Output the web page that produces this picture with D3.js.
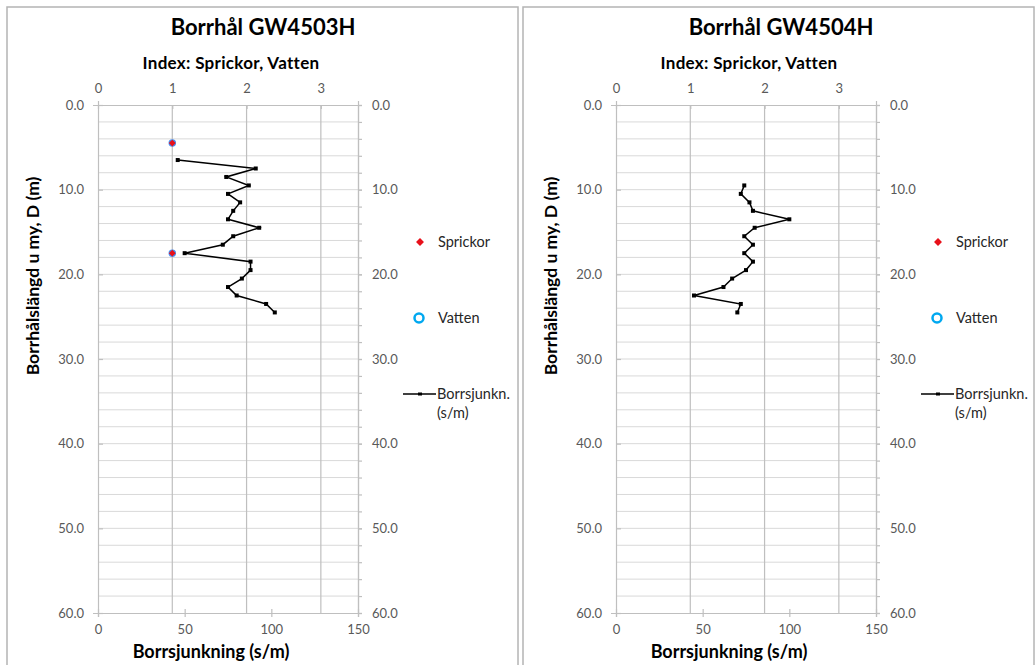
<!DOCTYPE html>
<html>
<head>
<meta charset="utf-8">
<script src="https://cdn.jsdelivr.net/npm/d3@7"></script>
<style>
  body { margin: 0; background: #fff; }
  text { font-family: Lato, "Open Sans", sans-serif; }
</style>
</head>
<body>
<div id="chart"></div>
<script>
// Borrhål data, depth (m) and borrsjunkning (s/m)
const titles = ["Borrhål GW4503H", "Borrhål GW4504H"];

const depthLeft = [6.5, 7.5, 8.5, 9.5, 10.5, 11.5, 12.5, 13.5, 14.5, 15.5, 16.5, 17.5, 18.5, 19.5, 20.5, 21.5, 22.5, 23.5, 24.5];
const sjunkLeft = [46, 91, 74, 87, 75, 82, 78, 75, 93, 78, 72, 50, 88, 88, 83, 75, 80, 97, 102];
const sprickorLeft = [4.5, 17.5];   // depth, index = 1
const vattenLeft = [4.5, 17.5];

const depthRight = [9.5, 10.5, 11.5, 12.5, 13.5, 14.5, 15.5, 16.5, 17.5, 18.5, 19.5, 20.5, 21.5, 22.5, 23.5, 24.5];
const sjunkRight = [74, 72, 77, 79, 100, 80, 74, 79, 74, 79, 75, 67, 62, 45, 72, 70];
const sprickorRight = [];
const vattenRight = [];

const indexTicks = [0, 1, 2, 3];
const sjunkTicks = [0, 50, 100, 150];
const depthTicks = [0, 10, 20, 30, 40, 50, 60];

const W = 1036, H = 665;
const svg = d3.select("#chart").append("svg")
  .attr("width", W).attr("height", H);

const gridCol = "#d9d9d9", axisCol = "#bfbfbf", tickText = "#595959";

function panel(dx, frameX, title, depth, sjunk, sprickor, vatten) {
  const g = svg.append("g").attr("transform", `translate(${dx},0)`);
  const left = 98, right = 358, top = 105, bottom = 613;

  // frame
  g.append("rect").attr("x", frameX).attr("y", 7).attr("width", 511).attr("height", 700)
    .attr("fill", "none").attr("stroke", "#b4b4b4").attr("stroke-width", 1.5);

  const y = d3.scaleLinear().domain([0, 60]).range([top, bottom]);
  const xIdx = d3.scaleLinear().domain([0, 3.5]).range([left, right]);
  const xS = d3.scaleLinear().domain([0, 150]).range([left, right]);

  // horizontal grid every 2 m
  g.append("g").selectAll("line").data(d3.range(2, 60, 2)).join("line")
    .attr("x1", left).attr("x2", right)
    .attr("y1", d => y(d)).attr("y2", d => y(d))
    .attr("stroke", gridCol).attr("stroke-width", 1);

  // vertical grid from index axis
  g.append("g").selectAll("line").data([1, 2, 3]).join("line")
    .attr("x1", d => xIdx(d)).attr("x2", d => xIdx(d))
    .attr("y1", top).attr("y2", bottom)
    .attr("stroke", axisCol).attr("stroke-width", 1.2);

  const styleAxis = sel => {
    sel.select(".domain").attr("stroke", axisCol).attr("stroke-width", 1.2);
    sel.selectAll(".tick line").attr("stroke", axisCol).attr("stroke-width", 1.2);
    sel.selectAll(".tick text").attr("fill", tickText).style("font-size", "13px")
      .style("font-family", "Lato, sans-serif");
  };

  // left depth axis
  const ax1 = g.append("g").attr("transform", `translate(${left},0)`)
    .call(d3.axisLeft(y).tickValues(depthTicks).tickFormat(d3.format(".1f")).tickSizeOuter(0).tickSize(5).tickPadding(9))
    .call(styleAxis);
  ax1.selectAll(".tick line").attr("x2", 5);

  // right depth axis, minor ticks every 2
  g.append("g").attr("transform", `translate(${right},0)`)
    .call(d3.axisRight(y).tickValues(d3.range(0, 61, 2)).tickFormat("").tickSizeOuter(0).tickSize(4))
    .call(styleAxis);
  g.append("g").attr("transform", `translate(${right},0)`)
    .call(d3.axisRight(y).tickValues(depthTicks).tickFormat(d3.format(".1f")).tickSizeOuter(0).tickSize(4).tickPadding(10))
    .call(styleAxis);

  // top index axis
  const ax3 = g.append("g").attr("transform", `translate(0,${top})`)
    .call(d3.axisTop(xIdx).tickValues(indexTicks).tickFormat(d3.format("d")).tickSizeOuter(0).tickSize(4).tickPadding(8))
    .call(styleAxis);
  ax3.selectAll(".tick line").attr("y2", 4);

  // bottom sjunk axis
  const ax4 = g.append("g").attr("transform", `translate(0,${bottom})`)
    .call(d3.axisBottom(xS).tickValues(sjunkTicks).tickFormat(d3.format("d")).tickSizeOuter(0).tickSize(4).tickPadding(8))
    .call(styleAxis);
  ax4.selectAll(".tick line").attr("y1", -4);

  // titles
  g.append("text").attr("x", 263).attr("y", 35).attr("text-anchor", "middle")
    .style("font-size", "22px").style("font-weight", "bold").text(title);
  g.append("text").attr("x", 231).attr("y", 69).attr("text-anchor", "middle")
    .style("font-size", "17px").style("font-weight", "bold").style("letter-spacing", "0.3px")
    .text("Index: Sprickor, Vatten");
  g.append("text").attr("x", 211).attr("y", 658).attr("text-anchor", "middle")
    .style("font-size", "18px").style("font-weight", "bold").text("Borrsjunkning (s/m)");
  g.append("text").attr("transform", "translate(39,276) rotate(-90)").attr("text-anchor", "middle")
    .style("font-size", "17.5px").style("font-weight", "bold").text("Borrhålslängd u my, D (m)");

  // borrsjunkning line
  const pts = depth.map((d, i) => [sjunk[i], d]);
  g.append("path").datum(pts)
    .attr("fill", "none").attr("stroke", "#000").attr("stroke-width", 1.5)
    .attr("d", d3.line().x(d => xS(d[0])).y(d => y(d[1])));
  g.append("g").selectAll("rect").data(pts).join("rect")
    .attr("x", d => xS(d[0]) - 2).attr("y", d => y(d[1]) - 2)
    .attr("width", 4).attr("height", 4).attr("fill", "#000");

  // vatten & sprickor
  g.append("g").selectAll("circle").data(vatten).join("circle")
    .attr("cx", xIdx(1)).attr("cy", d => y(d)).attr("r", 3)
    .attr("fill", "#4a6fd0").attr("stroke", "#4a8ff0").attr("stroke-width", 1.5);
  const diamond = d3.symbol().type(d3.symbolDiamond2).size(30);
  g.append("g").selectAll("path").data(sprickor).join("path")
    .attr("transform", d => `translate(${xIdx(1)},${y(d)})`)
    .attr("d", diamond).attr("fill", "#e8101a");

  // legend
  g.append("path").attr("transform", "translate(420,242)")
    .attr("d", d3.symbol().type(d3.symbolDiamond2).size(40)).attr("fill", "#e8101a");
  g.append("text").attr("x", 438).attr("y", 247).style("font-size", "14.5px").attr("fill", "#262626").text("Sprickor");
  g.append("circle").attr("cx", 419).attr("cy", 318).attr("r", 4.5)
    .attr("fill", "none").attr("stroke", "#00a8f0").attr("stroke-width", 2.5);
  g.append("text").attr("x", 438).attr("y", 323).style("font-size", "14.5px").attr("fill", "#262626").text("Vatten");
  g.append("line").attr("x1", 403).attr("x2", 436).attr("y1", 394).attr("y2", 394)
    .attr("stroke", "#000").attr("stroke-width", 1.5);
  g.append("rect").attr("x", 418).attr("y", 392.5).attr("width", 4).attr("height", 3).attr("fill", "#000");
  g.append("text").attr("x", 437).attr("y", 399).style("font-size", "14.5px").attr("fill", "#262626").text("Borrsjunkn.");
  g.append("text").attr("x", 437).attr("y", 418).style("font-size", "14.5px").attr("fill", "#262626").text("(s/m)");
}

panel(0, 7, titles[0], depthLeft, sjunkLeft, sprickorLeft, vattenLeft);
panel(518, 5, titles[1], depthRight, sjunkRight, sprickorRight, vattenRight);
</script>
</body>
</html>
